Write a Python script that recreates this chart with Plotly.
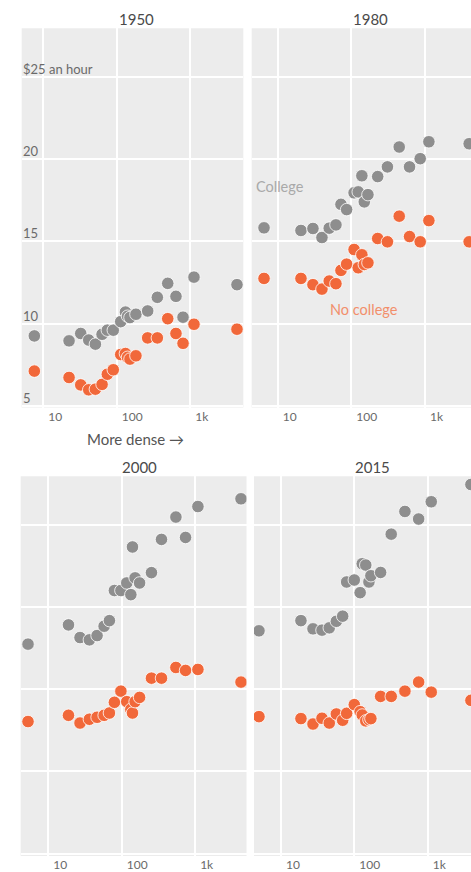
import plotly.graph_objects as go

# Population density (people per sq. mile) of each group of places, by year
density_1950 = [7.55, 22.4, 32.3, 41.5, 51.1, 63.0, 74.3, 89.5, 113, 131, 140, 151, 182,
                263, 356, 493, 638, 796, 1122, 4315]
density_1980 = [6.52, 20.7, 30.1, 39.9, 50.1, 61.8, 72.3, 86.3, 109, 124, 139, 150, 168,
                228, 309, 447, 617, 861, 1130, 3981]
density_2000 = [5.28, 18.8, 27.0, 36.2, 46.1, 57.5, 67.9, 79.4, 97.3, 117, 133, 140, 152,
                175, 254, 348, 547, 740, 1091, 4217]
density_2015 = [5.01, 18.7, 27.3, 36.2, 45.5, 56.8, 69.3, 78.5, 99.8, 120, 128, 143, 158,
                168, 228, 318, 489, 752, 1117, 3882]

# Hourly wages, college-educated workers
college_1950 = [9.25, 8.95, 9.40, 9.00, 8.75, 9.35, 9.60, 9.60, 10.12, 10.70, 10.45, 10.37, 10.57,
                10.77, 11.60, 12.45, 11.66, 10.39, 12.83, 12.37]
college_1980 = [15.83, 15.67, 15.79, 15.24, 15.81, 16.01, 17.26, 16.94, 17.96, 18.02, 19.00, 17.41,
                17.85, 18.95, 19.54, 20.75, 19.54, 20.04, 21.07, 20.95]
college_2000 = [17.74, 18.91, 18.14, 18.00, 18.26, 18.83, 19.17, 21.00, 21.00, 21.46, 20.75, 23.65,
                21.77, 21.46, 22.09, 24.11, 25.47, 24.23, 26.11, 26.58]
college_2015 = [18.55, 19.17, 18.67, 18.59, 18.73, 19.13, 19.44, 21.52, 21.64, 20.87, 22.63, 22.55,
                21.52, 21.90, 22.10, 24.43, 25.81, 25.35, 26.40, 27.45]

# Hourly wages, workers without a college degree
no_college_1950 = [7.11, 6.72, 6.27, 5.97, 6.01, 6.30, 6.92, 7.19, 8.12, 8.18, 7.95, 7.84, 8.04,
                   9.13, 9.13, 10.30, 9.40, 8.80, 9.96, 9.66]
no_college_1980 = [12.75, 12.75, 12.37, 12.10, 12.59, 12.43, 13.24, 13.62, 14.51, 13.40, 14.19, 13.60,
                   13.70, 15.18, 14.98, 16.54, 15.30, 14.98, 16.27, 14.98]
no_college_2000 = [13.03, 13.41, 12.94, 13.17, 13.29, 13.41, 13.55, 14.20, 14.88, 14.24, 13.77, 13.55,
                   14.24, 14.50, 15.67, 15.67, 16.32, 16.14, 16.20, 15.43]
no_college_2015 = [13.33, 13.21, 12.88, 13.23, 12.94, 13.49, 13.11, 13.53, 14.06, 13.63, 13.43, 13.07,
                   13.15, 13.21, 14.56, 14.56, 14.88, 15.43, 14.82, 14.32]

years = ["1950", "1980", "2000", "2015"]
x_tick_values = [10, 100, 1000]
x_tick_labels = ["10", "100", "1k"]
y_tick_values = [5, 10, 15, 20, 25]
y_tick_labels = ["5", "10", "15", "20", "$25 an hour"]

W, H = 471, 872
FONT = "Lato, 'Open Sans', sans-serif"
GREY = "#8e8e8e"
ORANGE = "#f1683a"
PANEL_BG = "#ececec"
TICK_COLOR = "#6a6a6a"

# Panel geometry in pixels: (left, right), (top, bottom), plus log10 x range and y range
panels = [
    dict(px=(21.7, 243.3), py=(28.3, 408.5), xr=(0.706, 3.721), yr=(4.89, 27.98)),
    dict(px=(251.7, 471.0), py=(28.3, 408.5), xr=(0.647, 3.625), yr=(4.89, 27.98)),
    dict(px=(20.7, 246.5), py=(477.3, 858.0), xr=(0.623, 3.700), yr=(4.85, 27.955)),
    dict(px=(254.0, 471.0), py=(477.3, 858.0), xr=(0.632, 3.590), yr=(4.85, 27.955)),
]

densities = [density_1950, density_1980, density_2000, density_2015]
college = [college_1950, college_1980, college_2000, college_2015]
no_college = [no_college_1950, no_college_1980, no_college_2000, no_college_2015]

fig = go.Figure()
layout = {}
for i, p in enumerate(panels):
    n = "" if i == 0 else str(i + 1)
    xa, ya = "x" + n, "y" + n
    for vals, col in ((college[i], GREY), (no_college[i], ORANGE)):
        fig.add_trace(go.Scatter(
            x=densities[i], y=vals, mode="markers", xaxis=xa, yaxis=ya,
            marker=dict(size=12.5, color=col, line=dict(color="white", width=0.8)),
            showlegend=False, hoverinfo="skip"))
    layout["xaxis" + n] = dict(
        type="log", range=list(p["xr"]), domain=[p["px"][0] / W, min(p["px"][1] / W, 1)],
        anchor=ya, tickvals=x_tick_values, ticktext=x_tick_labels,
        showgrid=True, gridcolor="white", gridwidth=1.5, zeroline=False, showline=False,
        ticks="", ticklabelposition="outside right", ticklabelshift=5,
        tickfont=dict(family=FONT, size=12, color=TICK_COLOR), fixedrange=True)
    layout["yaxis" + n] = dict(
        range=list(p["yr"]), domain=[1 - p["py"][1] / H, 1 - p["py"][0] / H],
        anchor=xa, tickvals=y_tick_values,
        showgrid=True, gridcolor="white", gridwidth=1.5, zeroline=False, showline=False,
        ticks="", showticklabels=False, fixedrange=True)

shapes = []
for p in panels:
    shapes.append(dict(type="rect", xref="paper", yref="paper", layer="below",
                       x0=p["px"][0] / W, x1=min(p["px"][1] / W, 1),
                       y0=1 - p["py"][1] / H, y1=1 - p["py"][0] / H,
                       fillcolor=PANEL_BG, line=dict(width=0)))

def note(text, x, y, size, color):
    return dict(text=text, x=x / W, y=1 - y / H, xref="paper", yref="paper",
                xanchor="center", yanchor="middle", showarrow=False,
                font=dict(family=FONT, size=size, color=color))

annotations = [
    note(years[0], 136.7, 19, 15, "#4a4a4a"),
    note(years[1], 370, 19, 15, "#4a4a4a"),
    note(years[2], 139, 468, 15, "#4a4a4a"),
    note(years[3], 372.7, 468, 15, "#4a4a4a"),
    note("More dense →", 135.5, 440, 15, "#555"),
    note("College", 280, 187.3, 14.5, "#a9a9a9"),
    note("No college", 364.3, 310, 14.5, "#f28f6b"),
]

# Wage labels sit inside the first panel, just above each gridline
for v, t in zip(y_tick_values, y_tick_labels):
    annotations.append(dict(text=t, x=0, y=v, xref="x domain", yref="y",
                            xanchor="left", yanchor="bottom", yshift=-2, xshift=-1,
                            showarrow=False,
                            font=dict(family=FONT, size=13, color=TICK_COLOR)))

fig.update_layout(
    width=W, height=H, margin=dict(l=0, r=0, t=0, b=0),
    paper_bgcolor="white", plot_bgcolor="rgba(0,0,0,0)",
    shapes=shapes, annotations=annotations, **layout)

fig.write_html("out.html", config={"displayModeBar": False})
